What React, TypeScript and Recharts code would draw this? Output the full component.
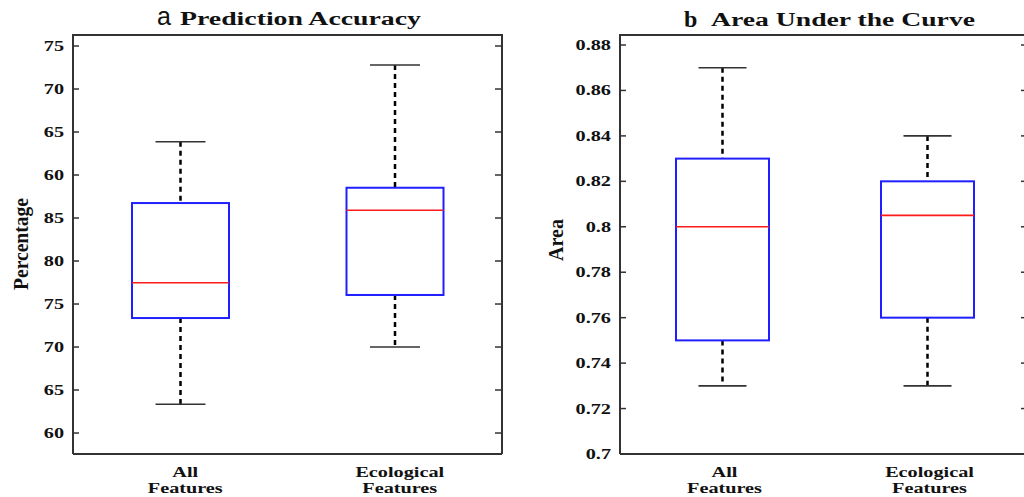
import React from "react";
import { ComposedChart, Bar, XAxis, YAxis } from "recharts";

// Categories shared by both panels
const categories = ["All Features", "Ecological Features"];

// Panel a: Prediction Accuracy (values on the panel's continuous vertical scale)
const accLow = [63.34, 70.0];
const accQ1 = [73.37, 76.05];
const accMedian = [77.48, 85.9];
const accQ3 = [86.74, 88.52];
const accHigh = [93.87, 102.79];
const accTickValues = [60, 65, 70, 75, 80, 85, 90, 95, 100, 105];
const accTickLabels = ["60", "65", "70", "75", "80", "85", "60", "65", "70", "75"];
const accDomain = [57.56, 106.28];

// Panel b: Area Under the Curve
const aucLow = [0.73, 0.73];
const aucQ1 = [0.75, 0.76];
const aucMedian = [0.8, 0.805];
const aucQ3 = [0.83, 0.82];
const aucHigh = [0.87, 0.84];
const aucTickValues = [0.7, 0.72, 0.74, 0.76, 0.78, 0.8, 0.82, 0.84, 0.86, 0.88];
const aucTickLabels = ["0.7", "0.72", "0.74", "0.76", "0.78", "0.8", "0.82", "0.84", "0.86", "0.88"];
const aucDomain = [0.7, 0.8844];

const buildRows = (low: number[], q1: number[], med: number[], q3: number[], high: number[]) =>
  categories.map((name, i) => ({
    name,
    range: [low[i], high[i]],
    low: low[i],
    q1: q1[i],
    median: med[i],
    q3: q3[i],
    high: high[i],
  }));

const accRows = buildRows(accLow, accQ1, accMedian, accQ3, accHigh);
const aucRows = buildRows(aucLow, aucQ1, aucMedian, aucQ3, aucHigh);

const SERIF = "'Liberation Serif', 'Times New Roman', serif";
const AXIS = "#333333";

const makeBoxShape = (capWidth: number) => (props: any) => {
  const { x, y, width, height, payload } = props;
  if (!payload) return <g />;
  const top = Math.min(y, y + height);
  const bottom = Math.max(y, y + height);
  const span = payload.high - payload.low;
  const py = (v: number) => bottom - ((v - payload.low) / span) * (bottom - top);
  const cx = x + width / 2;
  const yHigh = py(payload.high);
  const yLow = py(payload.low);
  const yQ3 = py(payload.q3);
  const yQ1 = py(payload.q1);
  const yMed = py(payload.median);
  return (
    <g>
      <line x1={cx} x2={cx} y1={yHigh} y2={yQ3} stroke="#000" strokeWidth={2.5} strokeDasharray="5 4" />
      <line x1={cx} x2={cx} y1={yQ1} y2={yLow} stroke="#000" strokeWidth={2.5} strokeDasharray="5 4" />
      <line x1={cx - capWidth / 2} x2={cx + capWidth / 2} y1={yHigh} y2={yHigh} stroke={AXIS} strokeWidth={1.6} />
      <line x1={cx - capWidth / 2} x2={cx + capWidth / 2} y1={yLow} y2={yLow} stroke={AXIS} strokeWidth={1.6} />
      <rect x={x} y={yQ3} width={width} height={yQ1 - yQ3} fill="none" stroke="#1f1fff" strokeWidth={2} />
      <line x1={x} x2={x + width} y1={yMed} y2={yMed} stroke="#ff1a1a" strokeWidth={1.6} />
    </g>
  );
};

const makeLeftTick = (values: number[], labels: string[]) => (p: any) => {
  const { x, y, payload } = p;
  const idx = values.findIndex((v) => Math.abs(v - payload.value) < 1e-9);
  const label = idx >= 0 ? labels[idx] : String(payload.value);
  return (
    <g>
      <line x1={x} x2={x + 6} y1={y} y2={y} stroke={AXIS} strokeWidth={1.5} />
      <text
        transform={`translate(${x - 9},${y + 5}) scale(1.35,1)`}
        textAnchor="end"
        fontFamily={SERIF}
        fontWeight="bold"
        fontSize={15}
        fill="#111"
      >
        {label}
      </text>
    </g>
  );
};

const makeRightTick = (len: number) => (p: any) => {
  const { x, y } = p;
  return <line x1={x - len} x2={x} y1={y} y2={y} stroke={AXIS} strokeWidth={1.5} />;
};

const makeXTick = (dx: number) => (p: any) => {
  const { x, y, payload } = p;
  const lines = String(payload.value).split(" ");
  return (
    <g>
      {lines.map((ln, i) => (
        <text
          key={i}
          transform={`translate(${x + dx},${y + 23 + i * 16}) scale(1.35,1)`}
          textAnchor="middle"
          fontFamily={SERIF}
          fontWeight="bold"
          fontSize={15}
          fill="#111"
        >
          {ln}
        </text>
      ))}
    </g>
  );
};

type PanelProps = {
  rows: any[];
  width: number;
  margin: { top: number; right: number; bottom: number; left: number };
  domain: number[];
  tickValues: number[];
  tickLabels: string[];
  barSize: number;
  capWidth: number;
  rightTickLen: number;
  labelDx: number;
};

const Panel = ({ rows, width, margin, domain, tickValues, tickLabels, barSize, capWidth, rightTickLen, labelDx }: PanelProps) => (
  <ComposedChart width={width} height={497} data={rows} margin={margin}>
    <XAxis
      dataKey="name"
      type="category"
      height={43}
      tickSize={0}
      tickMargin={0}
      tickLine={false}
      interval={0}
      axisLine={{ stroke: AXIS, strokeWidth: 2 }}
      tick={makeXTick(labelDx)}
    />
    <YAxis
      type="number"
      width={60}
      domain={domain}
      ticks={tickValues}
      allowDataOverflow
      interval={0}
      tickSize={0}
      tickMargin={0}
      tickLine={false}
      axisLine={{ stroke: AXIS, strokeWidth: 2 }}
      tick={makeLeftTick(tickValues, tickLabels)}
    />
    <YAxis
      yAxisId="right"
      orientation="right"
      type="number"
      width={1}
      domain={domain}
      ticks={tickValues}
      allowDataOverflow
      interval={0}
      tickSize={0}
      tickMargin={0}
      tickLine={false}
      axisLine={{ stroke: AXIS, strokeWidth: 2 }}
      tick={makeRightTick(rightTickLen)}
    />
    <Bar dataKey="range" barSize={barSize} isAnimationActive={false} shape={makeBoxShape(capWidth)} />
  </ComposedChart>
);

export default function App() {
  return (
    <div
      style={{
        position: "absolute",
        left: 0,
        top: 0,
        width: 1024,
        height: 497,
        overflow: "hidden",
        background: "#fff",
      }}
    >
      <div style={{ position: "absolute", left: 0, top: 0 }}>
        <Panel
          rows={accRows}
          width={512}
          margin={{ top: 35, right: 9, bottom: 0, left: 13 }}
          domain={accDomain}
          tickValues={accTickValues}
          tickLabels={accTickLabels}
          barSize={97}
          capWidth={50}
          rightTickLen={7}
          labelDx={5}
        />
      </div>
      <div style={{ position: "absolute", left: 512, top: 0 }}>
        <Panel
          rows={aucRows}
          width={530}
          margin={{ top: 35, right: 11, bottom: 0, left: 48 }}
          domain={aucDomain}
          tickValues={aucTickValues}
          tickLabels={aucTickLabels}
          barSize={93}
          capWidth={48}
          rightTickLen={9}
          labelDx={2}
        />
      </div>
      <svg
        width={1024}
        height={497}
        style={{ position: "absolute", left: 0, top: 0, pointerEvents: "none" }}
      >
        <line x1={72} x2={503} y1={35} y2={35} stroke={AXIS} strokeWidth={2} />
        <line x1={619} x2={1024} y1={35} y2={35} stroke={AXIS} strokeWidth={2} />
        <text x={157} y={25} fontFamily="'Liberation Sans', Arial, sans-serif" fontSize={25} fill="#111">
          a
        </text>
        <text
          x={180}
          y={25}
          fontFamily={SERIF}
          fontWeight="bold"
          fontSize={18}
          fill="#111"
          textLength={241}
          lengthAdjust="spacingAndGlyphs"
        >
          Prediction Accuracy
        </text>
        <text x={684} y={26.5} fontFamily={SERIF} fontWeight="bold" fontSize={24} fill="#111">
          b
        </text>
        <text
          x={711}
          y={26}
          fontFamily={SERIF}
          fontWeight="bold"
          fontSize={18}
          fill="#111"
          textLength={264}
          lengthAdjust="spacingAndGlyphs"
        >
          Area Under the Curve
        </text>
        <text
          transform="translate(28,244) rotate(-90)"
          textAnchor="middle"
          fontFamily={SERIF}
          fontWeight="bold"
          fontSize={20}
          fill="#111"
          textLength={92}
          lengthAdjust="spacingAndGlyphs"
        >
          Percentage
        </text>
        <text
          transform="translate(563,240) rotate(-90)"
          textAnchor="middle"
          fontFamily={SERIF}
          fontWeight="bold"
          fontSize={20}
          fill="#111"
        >
          Area
        </text>
      </svg>
    </div>
  );
}
